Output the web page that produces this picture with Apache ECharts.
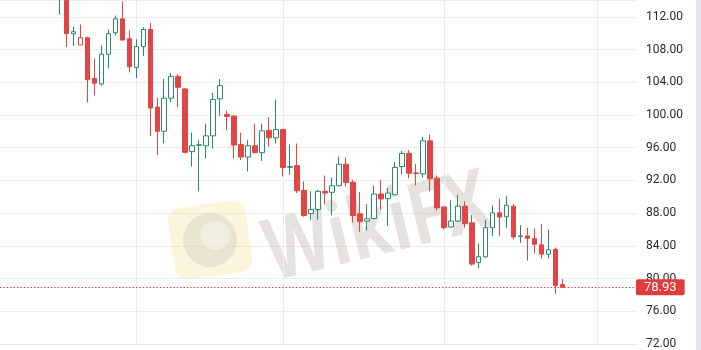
<!DOCTYPE html>
<html>
<head>
<meta charset="utf-8">
<script src="https://cdn.jsdelivr.net/npm/echarts@6/dist/echarts.min.js"></script>
<style>
html,body{margin:0;padding:0;background:#fff;}
#chart{width:701px;height:350px;}
</style>
</head>
<body>
<div id="chart"></div>
<script>
// Number of empty category slots before the first visible candle and total slots
const leadingSlots = 8;
const totalSlots = 91;

const opens  = [114.6,115.6,109.94,108.56,109.45,104.48,103.79,107.43,110.06,111.76,109.33,105.82,108.36,110.46,100.97,98.01,102.06,104.73,103.19,95.52,96.30,96.24,97.45,101.98,100.07,99.88,96.40,94.86,96.24,95.39,98.13,97.21,98.22,93.60,93.82,90.79,87.95,88.44,90.67,90.55,91.35,93.98,91.79,87.92,87.03,87.35,90.34,89.77,90.25,93.70,95.31,92.92,92.80,96.85,92.28,88.76,86.30,87.03,88.85,86.82,81.98,82.67,86.22,88.04,87.55,88.85,85.15,85.21,84.88,84.12,82.98,83.55,79.27];
const closes = [116.2,109.94,110.18,109.45,104.31,103.88,107.43,109.94,111.76,109.16,105.89,108.36,110.46,100.85,98.01,102.06,104.73,103.39,95.43,96.24,96.36,97.45,101.89,103.59,99.83,96.32,94.86,96.24,95.39,98.06,97.21,98.22,93.58,93.70,90.74,87.71,88.44,90.67,90.46,91.35,93.98,91.76,87.71,86.95,87.31,90.34,89.73,90.46,93.58,95.31,92.88,92.84,96.85,92.19,88.64,86.22,87.03,88.85,86.70,81.77,82.67,86.22,88.04,87.52,88.97,85.09,85.21,84.92,84.19,82.98,83.52,79.15,78.93];
const lows   = [112.28,108.31,108.44,108.56,101.53,102.38,103.59,105.70,109.73,109.16,105.21,104.52,107.22,97.41,95.10,96.52,101.58,100.97,95.31,93.70,90.67,94.70,95.92,99.88,98.13,94.70,94.50,93.09,95.31,94.38,96.12,96.52,92.48,92.68,90.46,87.55,87.15,87.22,89.04,87.76,91.27,91.27,86.82,85.73,85.89,87.22,88.44,86.42,90.18,92.76,92.28,91.39,92.36,90.67,88.32,86.01,86.22,86.95,86.22,81.58,81.29,82.58,85.21,85.21,86.22,84.80,84.36,82.18,83.07,82.46,82.46,78.13,78.93];
const highs  = [116.8,116.4,110.79,111.07,109.58,106.91,108.52,110.46,112.16,113.89,110.34,109.25,110.74,111.27,102.10,104.40,105.13,105.01,103.27,97.85,96.92,98.94,102.70,104.40,100.56,99.88,97.85,96.92,98.94,98.94,99.76,101.89,98.34,96.40,96.52,91.88,90.67,90.86,92.61,92.36,94.91,94.79,92.07,90.58,89.12,91.39,92.07,91.07,94.22,95.59,95.71,94.00,97.33,97.61,92.61,88.76,89.58,90.25,89.45,87.76,84.28,87.15,88.97,89.75,90.06,89.12,86.55,86.22,86.13,86.70,86.01,83.79,79.95];

const lastPrice = 78.93;
const yTicks = {min: 72, interval: 4};
const monthLineSlots = [19, 40, 63, 85];

const categories = [];
for (let i = 0; i < totalSlots; i++) categories.push('D' + (i + 1));

const UP = '#2a8a69';
const DOWN = '#e04646';
const PRICE = '#e03c3c';

const candleData = [];
for (let i = 0; i < totalSlots; i++) {
  const k = i - leadingSlots;
  if (k < 0 || k >= opens.length) { candleData.push('-'); continue; }
  const o = opens[k], c = closes[k], l = lows[k], h = highs[k];
  const prevC = k > 0 ? closes[k - 1] : o;
  const col = (k === 0 || c >= prevC) ? UP : DOWN;
  const hollow = c > o;
  const fill = hollow ? '#ffffff' : col;
  candleData.push({
    value: [o, c, l, h],
    itemStyle: {color: fill, color0: fill, borderColor: col, borderColor0: col}
  });
}

const chart = echarts.init(document.getElementById('chart'), null, {renderer: 'canvas'});
chart.setOption({
  animation: false,
  backgroundColor: '#ffffff',
  grid: {left: 0, right: 65, top: 0, bottom: 3, containLabel: false},
  xAxis: {
    type: 'category',
    data: categories,
    boundaryGap: true,
    axisLine: {show: false},
    axisTick: {show: false},
    axisLabel: {show: false},
    splitLine: {show: false}
  },
  yAxis: {
    type: 'value',
    position: 'right',
    min: yTicks.min,
    max: 114.06,
    interval: yTicks.interval,
    axisLine: {show: false},
    axisTick: {show: false},
    axisLabel: {
      showMaxLabel: false,
      margin: 10,
      color: '#2a2a2a',
      fontSize: 12,
      fontFamily: 'Roboto, "Liberation Sans", sans-serif',
      formatter: v => v.toFixed(2)
    },
    splitLine: {show: true, lineStyle: {color: '#ececec', width: 1}}
  },
  series: [
    {
      type: 'line',
      data: [],
      silent: true,
      color: '#ececec',
      markLine: {
        silent: true,
        z: 1,
        symbol: ['none', 'none'],
        label: {show: false},
        lineStyle: {color: '#ececec', type: 'solid', width: 1},
        data: monthLineSlots.map(i => ({xAxis: categories[i]}))
      }
    },
    {
      type: 'candlestick',
      z: 3,
      barWidth: 5,
      data: candleData,
      itemStyle: {color: '#ffffff', color0: DOWN, borderColor: UP, borderColor0: DOWN, borderWidth: 1}
    },
    {
      type: 'line',
      data: [],
      silent: true,
      color: PRICE,
      markLine: {
        silent: true,
        z: 6,
        symbol: ['none', 'none'],
        lineStyle: {color: PRICE, type: [1.4, 2], width: 1.2},
        label: {
          show: true,
          position: 'end',
          distance: 0,
          formatter: () => lastPrice.toFixed(2),
          color: '#ffffff',
          backgroundColor: PRICE,
          fontSize: 13,
          fontFamily: 'Roboto, "Liberation Sans", sans-serif',
          padding: [2, 8, 1, 8],
          borderRadius: 2
        },
        data: [{yAxis: lastPrice, lineStyle: {color: PRICE}}]
      }
    }
  ],
  graphic: [
    {type: 'rect', right: 0, top: 0, z: 10, shape: {width: 5, height: 350}, style: {fill: '#e3e5ee'}},
    {
      type: 'group', x: 210, y: 240, rotation: 0.14, z: 1,
      children: [
        {type: 'rect', z: 1, shape: {x: -39, y: -36, width: 78, height: 72, r: 12}, style: {fill: 'rgba(248,218,140,0.3)'}},
        {type: 'circle', z: 1, shape: {cx: 0, cy: 0, r: 27}, style: {fill: 'rgba(190,190,190,0.3)'}},
        {type: 'circle', z: 1, shape: {cx: 6, cy: -4, r: 15}, style: {fill: 'rgba(255,255,255,0.35)'}}
      ]
    },
    {
      type: 'text', x: 378, y: 230, rotation: 0.24, scaleX: 0.78, z: 1,
      style: {
        text: 'WikiFX',
        font: 'bold 86px "Open Sans", "DejaVu Sans", sans-serif',
        fill: 'rgba(175,168,162,0.33)',
        align: 'center',
        verticalAlign: 'middle'
      }
    }
  ]
});
</script>
</body>
</html>
